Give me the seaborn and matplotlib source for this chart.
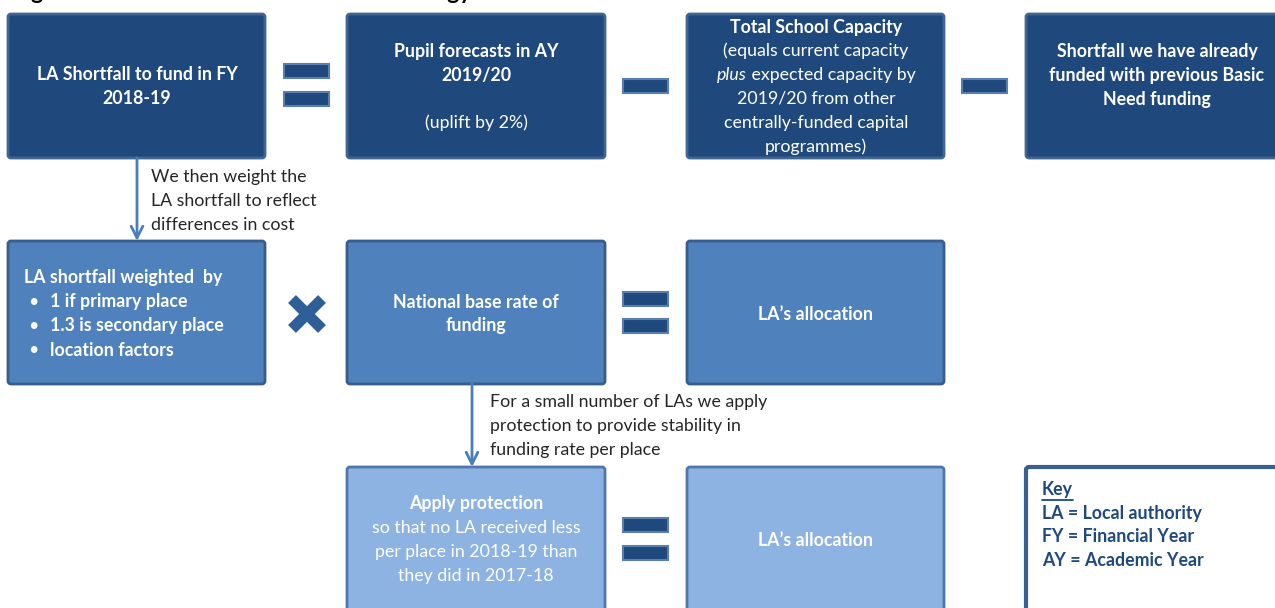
import matplotlib
matplotlib.use("Agg")
import matplotlib.pyplot as plt
import seaborn as sns
from matplotlib.patches import FancyBboxPatch, Rectangle

sns.set_theme(style="white")
plt.rcParams['font.family'] = ['Lato', 'DejaVu Sans']

# ---------------- content ----------------
title_text = "Figure 1: Basic Need allocation methodology"

# each line: list of (text, style) with style b=bold, n=normal, i=italic
row1_box1 = [[("LA Shortfall to fund in FY", "b")], [("2018-19", "b")]]
row1_box2 = [[("Pupil forecasts in AY", "b")], [("2019/20", "b")], [], [("(uplift by 2%)", "n")]]
row1_box3 = [[("Total School Capacity", "b")], [("(equals current capacity", "n")],
             [("plus", "i"), (" expected capacity by", "n")], [("2019/20 from other", "n")],
             [("centrally-funded capital", "n")], [("programmes)", "n")]]
row1_box4 = [[("Shortfall we have already", "b")], [("funded with previous Basic", "b")],
             [("Need funding", "b")]]

row2_box1_head = "LA shortfall weighted  by"
row2_box1_bullets = ["1 if primary place", "1.3 is secondary place", "location factors"]
row2_box2 = [[("National base rate of", "b")], [("funding", "b")]]
row2_box3 = [[("LA\u2019s allocation", "b")]]

row3_box1 = [[("Apply protection", "b")], [("so that no LA received less", "n")],
             [("per place in 2018-19 than", "n")], [("they did in 2017-18", "n")]]
row3_box2 = [[("LA\u2019s allocation", "b")]]

note1_lines = ["We then weight the", "LA shortfall to reflect", "differences in cost"]
note2_lines = ["For a small number of LAs we apply", "protection to provide stability in",
               "funding rate per place"]

key_title = "Key"
key_lines = ["LA = Local authority", "FY = Financial Year", "AY = Academic Year"]

# ---------------- layout / style ----------------
W, H = 1275, 608
fig = plt.figure(figsize=(W / 100, H / 100), dpi=100)
ax = fig.add_axes([0, 0, 1, 1])
ax.set_xlim(0, W)
ax.set_ylim(H, 0)
ax.axis("off")
renderer = fig.canvas.get_renderer()

FS = 12.8
LH = 24
DARK = "#1f497d"
MID = "#4f81bd"
LIGHT = "#8db3e2"
ARROW = "#4a7ebb"

cols = [(8, 265), (347, 605), (687, 944), (1026, 1288)]
rows = [(14, 158), (241, 384), (467, 640)]


def box(col, row, fc, ec, lw=2.0):
    x0, x1 = cols[col]
    y0, y1 = rows[row]
    p = FancyBboxPatch((x0, y0), x1 - x0, y1 - y0,
                       boxstyle="round,pad=0,rounding_size=3",
                       fc=fc, ec=ec, lw=lw, zorder=2)
    ax.add_patch(p)


def seg_width(txt, style, size=FS):
    t = ax.text(0, 0, txt, fontsize=size,
                fontweight="bold" if style == "b" else "normal",
                fontstyle="italic" if style == "i" else "normal")
    w = t.get_window_extent(renderer=renderer).width
    t.remove()
    return w


def draw_lines(lines, cx, cy, color="white", size=FS):
    n = len(lines)
    for i, segs in enumerate(lines):
        y = cy + (i - (n - 1) / 2) * LH
        if not segs:
            continue
        widths = [seg_width(s, st, size) for s, st in segs]
        x = cx - sum(widths) / 2
        for (s, st), w in zip(segs, widths):
            ax.text(x, y, s, fontsize=size, color=color, ha="left", va="center",
                    fontweight="bold" if st == "b" else "normal",
                    fontstyle="italic" if st == "i" else "normal", zorder=5)
            x += w


def bar(cx, cy, w=45, h=14):
    ax.add_patch(Rectangle((cx - w / 2, cy - h / 2), w, h, fc=DARK, ec="#5a7fae",
                           lw=1.5, zorder=3))


# title (cut off by the top edge, as in the source)
ax.text(12, -1.0, title_text, fontsize=16.7, fontweight="bold", color="black",
        ha="left", va="baseline")

# row 1
for c in range(4):
    box(c, 0, DARK, "#41668f")
draw_lines(row1_box1, 137, 87)
draw_lines(row1_box2, 476, 87)
draw_lines(row1_box3, 816, 87)
draw_lines(row1_box4, 1157, 75)
bar(306, 71); bar(306, 99)
bar(645, 86)
bar(984, 86)

# row 2
for c in range(3):
    box(c, 1, MID, "#385d8a")
ax.text(24, 278, row2_box1_head, fontsize=FS, color="white", fontweight="bold",
        ha="left", va="center", zorder=5)
for i, b in enumerate(row2_box1_bullets):
    y = 302 + i * LH
    ax.text(28, y, "\u2022", fontsize=FS, color="white", ha="left", va="center", zorder=5)
    ax.text(50, y, b, fontsize=FS, color="white", fontweight="bold",
            ha="left", va="center", zorder=5)
draw_lines(row2_box2, 476, 314)
draw_lines(row2_box3, 816, 314)
# multiplication sign
ax.plot([292, 322], [299, 329], color="#2f5f98", lw=8, solid_capstyle="butt", zorder=3)
ax.plot([292, 322], [329, 299], color="#2f5f98", lw=8, solid_capstyle="butt", zorder=3)
bar(645, 299); bar(645, 326)

# row 3
box(1, 2, LIGHT, "#4f77aa")
box(2, 2, LIGHT, "#4f77aa")
draw_lines(row3_box1, 476, 540)
draw_lines(row3_box2, 816, 540)
bar(645, 525); bar(645, 553)

# key box
box(3, 2, "white", "#3a6090", lw=3)
kt = ax.text(1042, 489, key_title, fontsize=FS, color=DARK, fontweight="bold",
             ha="left", va="center", zorder=5)
kw = kt.get_window_extent(renderer=renderer).width
ax.plot([1042, 1042 + kw], [500, 500], color=DARK, lw=1.3, zorder=5)
for i, k in enumerate(key_lines):
    ax.text(1042, 513 + i * LH, k, fontsize=FS, color=DARK, fontweight="bold",
            ha="left", va="center", zorder=5)

# arrows
for x, y0, y1 in [(137, 158, 241), (472, 384, 467)]:
    ax.annotate("", xy=(x, y1), xytext=(x, y0),
                arrowprops=dict(arrowstyle="->,head_length=0.7,head_width=0.35",
                                color=ARROW, lw=2, shrinkA=0, shrinkB=0), zorder=4)

# notes
for i, s in enumerate(note1_lines):
    ax.text(151, 177 + i * LH, s, fontsize=FS, color="#262626", ha="left", va="center")
for i, s in enumerate(note2_lines):
    ax.text(490, 402 + i * LH, s, fontsize=FS, color="#262626", ha="left", va="center")

fig.savefig("out.png", dpi=100)
